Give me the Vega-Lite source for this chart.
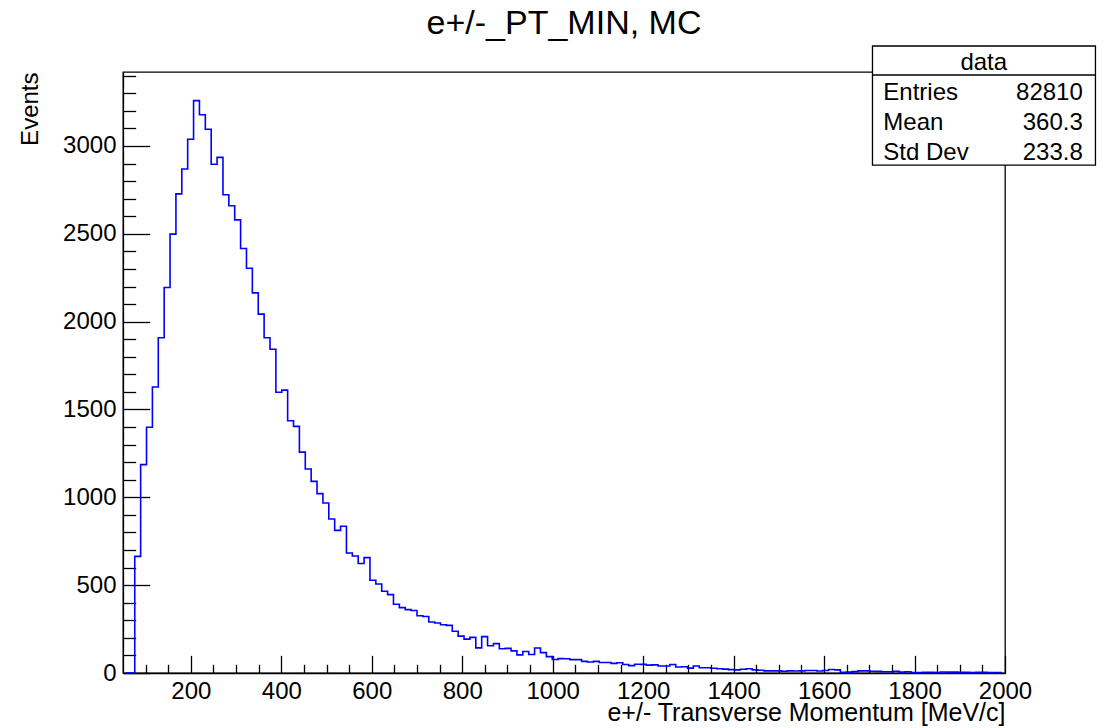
{
  "$schema": "https://vega.github.io/schema/vega-lite/v6.json",
  "width": 882,
  "height": 601,
  "autosize": "none",
  "padding": {"left": 123, "top": 72, "right": 104, "bottom": 55},
  "background": "white",
  "config": {
    "font": "Liberation Sans",
    "view": {"stroke": "black", "strokeWidth": 1.3},
    "axis": {
      "grid": false,
      "labelFont": "Liberation Sans",
      "titleFont": "Liberation Sans",
      "domainColor": "black",
      "tickColor": "black",
      "labelColor": "black",
      "titleColor": "black",
      "domainWidth": 1.3,
      "tickWidth": 1.3,
      "titleFontWeight": "normal"
    }
  },
  "title": {
    "text": "e+/-_PT_MIN, MC",
    "fontSize": 34,
    "fontWeight": "normal",
    "font": "Liberation Sans",
    "color": "black",
    "frame": "group",
    "anchor": "middle",
    "baseline": "alphabetic",
    "offset": 3,
    "dy": 26
  },
  "datasets": {
    "hist": [
      {"pt": 56.5, "n": 0}, {"pt": 69.5, "n": 0},
      {"pt": 82.5, "n": 664}, {"pt": 95.5, "n": 1186}, {"pt": 108.5, "n": 1399}, {"pt": 121.5, "n": 1628},
      {"pt": 134.5, "n": 1908}, {"pt": 147.5, "n": 2194}, {"pt": 160.5, "n": 2498}, {"pt": 173.5, "n": 2727},
      {"pt": 186.5, "n": 2869}, {"pt": 199.5, "n": 3038}, {"pt": 212.5, "n": 3258}, {"pt": 225.5, "n": 3178},
      {"pt": 238.5, "n": 3095}, {"pt": 251.5, "n": 2896}, {"pt": 264.5, "n": 2935}, {"pt": 277.5, "n": 2722},
      {"pt": 290.5, "n": 2660}, {"pt": 303.5, "n": 2579}, {"pt": 316.5, "n": 2416}, {"pt": 329.5, "n": 2304},
      {"pt": 342.5, "n": 2164}, {"pt": 355.5, "n": 2043}, {"pt": 368.5, "n": 1908}, {"pt": 381.5, "n": 1843},
      {"pt": 394.5, "n": 1598}, {"pt": 407.5, "n": 1610}, {"pt": 420.5, "n": 1436}, {"pt": 433.5, "n": 1404},
      {"pt": 446.5, "n": 1257}, {"pt": 459.5, "n": 1161}, {"pt": 472.5, "n": 1091}, {"pt": 485.5, "n": 1021},
      {"pt": 498.5, "n": 968}, {"pt": 511.5, "n": 877}, {"pt": 524.5, "n": 812}, {"pt": 537.5, "n": 835},
      {"pt": 550.5, "n": 683}, {"pt": 563.5, "n": 666}, {"pt": 576.5, "n": 623}, {"pt": 589.5, "n": 657},
      {"pt": 602.5, "n": 528}, {"pt": 615.5, "n": 507}, {"pt": 628.5, "n": 465}, {"pt": 641.5, "n": 446},
      {"pt": 654.5, "n": 391}, {"pt": 667.5, "n": 372}, {"pt": 680.5, "n": 361}, {"pt": 693.5, "n": 356},
      {"pt": 706.5, "n": 326}, {"pt": 719.5, "n": 322}, {"pt": 732.5, "n": 290}, {"pt": 745.5, "n": 285},
      {"pt": 758.5, "n": 275}, {"pt": 771.5, "n": 271}, {"pt": 784.5, "n": 238}, {"pt": 797.5, "n": 210},
      {"pt": 810.5, "n": 193}, {"pt": 823.5, "n": 203}, {"pt": 836.5, "n": 143}, {"pt": 849.5, "n": 207},
      {"pt": 862.5, "n": 155}, {"pt": 875.5, "n": 167}, {"pt": 888.5, "n": 138}, {"pt": 901.5, "n": 140},
      {"pt": 914.5, "n": 126}, {"pt": 927.5, "n": 103}, {"pt": 940.5, "n": 122}, {"pt": 953.5, "n": 105},
      {"pt": 966.5, "n": 142}, {"pt": 979.5, "n": 116}, {"pt": 992.5, "n": 93}, {"pt": 1005.5, "n": 77},
      {"pt": 1018.5, "n": 82}, {"pt": 1031.5, "n": 81}, {"pt": 1044.5, "n": 76}, {"pt": 1057.5, "n": 76},
      {"pt": 1070.5, "n": 66}, {"pt": 1083.5, "n": 63}, {"pt": 1096.5, "n": 66}, {"pt": 1109.5, "n": 60},
      {"pt": 1122.5, "n": 60}, {"pt": 1135.5, "n": 55}, {"pt": 1148.5, "n": 58}, {"pt": 1161.5, "n": 48},
      {"pt": 1174.5, "n": 42}, {"pt": 1187.5, "n": 50}, {"pt": 1200.5, "n": 49}, {"pt": 1213.5, "n": 45},
      {"pt": 1226.5, "n": 46}, {"pt": 1239.5, "n": 40}, {"pt": 1252.5, "n": 40}, {"pt": 1265.5, "n": 48},
      {"pt": 1278.5, "n": 34}, {"pt": 1291.5, "n": 36}, {"pt": 1304.5, "n": 28}, {"pt": 1317.5, "n": 40},
      {"pt": 1330.5, "n": 30}, {"pt": 1343.5, "n": 30}, {"pt": 1356.5, "n": 27}, {"pt": 1369.5, "n": 24},
      {"pt": 1382.5, "n": 22}, {"pt": 1395.5, "n": 19}, {"pt": 1408.5, "n": 18}, {"pt": 1421.5, "n": 21},
      {"pt": 1434.5, "n": 24}, {"pt": 1447.5, "n": 18}, {"pt": 1460.5, "n": 16}, {"pt": 1473.5, "n": 12},
      {"pt": 1486.5, "n": 12}, {"pt": 1499.5, "n": 12}, {"pt": 1512.5, "n": 10}, {"pt": 1525.5, "n": 12},
      {"pt": 1538.5, "n": 11}, {"pt": 1551.5, "n": 12}, {"pt": 1564.5, "n": 14}, {"pt": 1577.5, "n": 14},
      {"pt": 1590.5, "n": 11}, {"pt": 1603.5, "n": 14}, {"pt": 1616.5, "n": 20}, {"pt": 1629.5, "n": 18},
      {"pt": 1642.5, "n": 4}, {"pt": 1655.5, "n": 5}, {"pt": 1668.5, "n": 8}, {"pt": 1681.5, "n": 12},
      {"pt": 1694.5, "n": 12}, {"pt": 1707.5, "n": 10}, {"pt": 1720.5, "n": 9}, {"pt": 1733.5, "n": 7},
      {"pt": 1746.5, "n": 7}, {"pt": 1759.5, "n": 10}, {"pt": 1772.5, "n": 5}, {"pt": 1785.5, "n": 7},
      {"pt": 1798.5, "n": 3}, {"pt": 1811.5, "n": 3}, {"pt": 1824.5, "n": 4}, {"pt": 1837.5, "n": 4},
      {"pt": 1850.5, "n": 3}, {"pt": 1863.5, "n": 6}, {"pt": 1876.5, "n": 5}, {"pt": 1889.5, "n": 5},
      {"pt": 1902.5, "n": 4}, {"pt": 1915.5, "n": 4}, {"pt": 1928.5, "n": 3}, {"pt": 1941.5, "n": 4},
      {"pt": 1954.5, "n": 4}, {"pt": 1967.5, "n": 2}, {"pt": 1980.5, "n": 3}, {"pt": 1993.5, "n": 2}
    ],
    "stats": [
      {"stat": "Entries", "value": "82810"},
      {"stat": "Mean", "value": "360.3"},
      {"stat": "Std Dev", "value": "233.8"}
    ],
    "box": [{"name": "data"}]
  },
  "resolve": {"axis": {"x": "independent", "y": "independent"}},
  "layer": [
    {
      "data": {"name": "hist"},
      "mark": {"type": "line", "opacity": 0},
      "encoding": {
        "x": {"field": "pt", "type": "quantitative", "scale": {"domain": [50, 2000], "nice": false, "zero": false},
          "axis": {"orient": "bottom", "values": [100,150,250,300,350,450,500,550,650,700,750,850,900,950,1050,1100,1150,1250,1300,1350,1450,1500,1550,1650,1700,1750,1850,1900,1950],
            "tickSize": -8.7, "labels": false, "domain": false, "title": null}},
        "y": {"field": "n", "type": "quantitative", "scale": {"domain": [0, 3421], "nice": false},
          "axis": {"orient": "left", "values": [100,200,300,400,600,700,800,900,1100,1200,1300,1400,1600,1700,1800,1900,2100,2200,2300,2400,2600,2700,2800,2900,3100,3200,3300,3400],
            "tickSize": -12.7, "labels": false, "domain": false, "title": null}}
      }
    },
    {
      "data": {"name": "hist"},
      "mark": {"type": "line", "interpolate": "step", "color": "#0000ff", "strokeWidth": 1.6},
      "encoding": {
        "x": {"field": "pt", "type": "quantitative",
          "axis": {"orient": "bottom", "values": [200,400,600,800,1000,1200,1400,1600,1800,2000], "format": "d",
            "tickSize": -17.7, "labelFontSize": 24, "labelPadding": 24, "labelFlush": false, "labelOverlap": false,
            "title": "e+/- Transverse Momentum [MeV/c]", "titleFontSize": 25, "titleAnchor": "end", "titleAlign": "right",
            "titleBaseline": "alphabetic", "titlePadding": 17}},
        "y": {"field": "n", "type": "quantitative",
          "axis": {"orient": "left", "values": [0,500,1000,1500,2000,2500,3000], "format": "d",
            "tickSize": -26.7, "labelFontSize": 24, "labelPadding": 33.7, "labelOverlap": false,
            "title": "Events", "titleFontSize": 24, "titleAnchor": "end", "titleAlign": "right", "titlePadding": 20}}
      }
    },
    {
      "data": {"name": "box"},
      "mark": {"type": "rect", "fill": "white", "stroke": "black", "strokeWidth": 1.3},
      "encoding": {
        "x": {"datum": 1707, "axis": null}, "x2": {"datum": 2200},
        "y": {"datum": 3569, "axis": null}, "y2": {"datum": 2891}
      }
    },
    {
      "data": {"name": "box"},
      "mark": {"type": "rule", "color": "black", "strokeWidth": 1.3},
      "encoding": {
        "x": {"datum": 1707, "axis": null}, "x2": {"datum": 2200},
        "y": {"datum": 3404, "axis": null}
      }
    },
    {
      "data": {"name": "box"},
      "mark": {"type": "text", "fontSize": 24, "align": "center", "baseline": "middle", "color": "black"},
      "encoding": {
        "x": {"datum": 1953, "axis": null},
        "y": {"datum": 3475, "axis": null},
        "text": {"field": "name"}
      }
    },
    {
      "data": {"name": "stats"},
      "transform": [{"filter": "datum.stat == 'Entries'"}],
      "layer": [
        {"mark": {"type": "text", "fontSize": 24, "align": "left", "baseline": "middle", "color": "black"},
          "encoding": {"x": {"datum": 1731, "axis": null}, "y": {"datum": 3300, "axis": null}, "text": {"field": "stat"}}},
        {"mark": {"type": "text", "fontSize": 24, "align": "right", "baseline": "middle", "color": "black"},
          "encoding": {"x": {"datum": 2172, "axis": null}, "y": {"datum": 3300, "axis": null}, "text": {"field": "value"}}}
      ]
    },
    {
      "data": {"name": "stats"},
      "transform": [{"filter": "datum.stat == 'Mean'"}],
      "layer": [
        {"mark": {"type": "text", "fontSize": 24, "align": "left", "baseline": "middle", "color": "black"},
          "encoding": {"x": {"datum": 1731, "axis": null}, "y": {"datum": 3129, "axis": null}, "text": {"field": "stat"}}},
        {"mark": {"type": "text", "fontSize": 24, "align": "right", "baseline": "middle", "color": "black"},
          "encoding": {"x": {"datum": 2172, "axis": null}, "y": {"datum": 3129, "axis": null}, "text": {"field": "value"}}}
      ]
    },
    {
      "data": {"name": "stats"},
      "transform": [{"filter": "datum.stat == 'Std Dev'"}],
      "layer": [
        {"mark": {"type": "text", "fontSize": 24, "align": "left", "baseline": "middle", "color": "black"},
          "encoding": {"x": {"datum": 1731, "axis": null}, "y": {"datum": 2958, "axis": null}, "text": {"field": "stat"}}},
        {"mark": {"type": "text", "fontSize": 24, "align": "right", "baseline": "middle", "color": "black"},
          "encoding": {"x": {"datum": 2172, "axis": null}, "y": {"datum": 2958, "axis": null}, "text": {"field": "value"}}}
      ]
    }
  ]
}
